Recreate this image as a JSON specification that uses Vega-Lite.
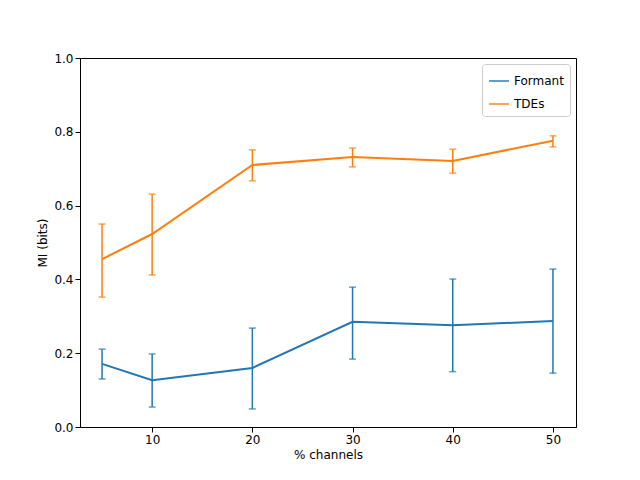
{
  "$schema": "https://vega.github.io/schema/vega-lite/v6.json",
  "width": 496,
  "height": 369,
  "autosize": {"type": "none"},
  "padding": {"left": 80, "top": 58, "right": 64, "bottom": 53},
  "data": {
    "values": [
      {"x": 5, "s": "Formant", "m": 0.171, "lo": 0.130, "hi": 0.211},
      {"x": 10, "s": "Formant", "m": 0.127, "lo": 0.054, "hi": 0.198},
      {"x": 20, "s": "Formant", "m": 0.160, "lo": 0.049, "hi": 0.268},
      {"x": 30, "s": "Formant", "m": 0.285, "lo": 0.184, "hi": 0.379},
      {"x": 40, "s": "Formant", "m": 0.276, "lo": 0.150, "hi": 0.401},
      {"x": 50, "s": "Formant", "m": 0.287, "lo": 0.146, "hi": 0.428},
      {"x": 5, "s": "TDEs", "m": 0.455, "lo": 0.352, "hi": 0.550},
      {"x": 10, "s": "TDEs", "m": 0.523, "lo": 0.412, "hi": 0.631},
      {"x": 20, "s": "TDEs", "m": 0.710, "lo": 0.667, "hi": 0.751},
      {"x": 30, "s": "TDEs", "m": 0.732, "lo": 0.705, "hi": 0.756},
      {"x": 40, "s": "TDEs", "m": 0.721, "lo": 0.688, "hi": 0.753},
      {"x": 50, "s": "TDEs", "m": 0.776, "lo": 0.759, "hi": 0.789}
    ]
  },
  "encoding": {
    "x": {"field": "x", "type": "quantitative", "title": "% channels",
      "scale": {"domain": [2.8, 52.3], "nice": false, "zero": false},
      "axis": {"values": [10, 20, 30, 40, 50], "grid": false}},
    "color": {"field": "s", "type": "nominal", "title": null,
      "scale": {"domain": ["Formant", "TDEs"], "range": ["#1f77b4", "#ff7f0e"]},
      "legend": {"orient": "top-right", "offset": 6, "symbolType": "stroke", "strokeColor": "#cccccc",
        "padding": 6, "cornerRadius": 3, "fillColor": "white", "labelFontSize": 12,
        "symbolSize": 400, "symbolStrokeWidth": 2, "rowPadding": 6}}
  },
  "layer": [
    {"mark": {"type": "rule", "strokeWidth": 1.5},
      "encoding": {"y": {"field": "lo", "type": "quantitative"}, "y2": {"field": "hi"}}},
    {"mark": {"type": "tick", "orient": "horizontal", "size": 7, "thickness": 1.5},
      "encoding": {"y": {"field": "lo", "type": "quantitative"}}},
    {"mark": {"type": "tick", "orient": "horizontal", "size": 7, "thickness": 1.5},
      "encoding": {"y": {"field": "hi", "type": "quantitative"}}},
    {"mark": {"type": "line", "strokeWidth": 2},
      "encoding": {"y": {"field": "m", "type": "quantitative", "title": "MI (bits)",
        "scale": {"domain": [0, 1], "nice": false},
        "axis": {"values": [0, 0.2, 0.4, 0.6, 0.8, 1.0], "format": ".1f", "grid": false}}}}
  ],
  "config": {
    "view": {"stroke": "black"},
    "axis": {"labelFontSize": 12, "titleFontSize": 12, "titleFontWeight": "normal", "labelColor": "black",
      "titleColor": "black", "domainColor": "black", "tickColor": "black", "labelFont": "DejaVu Sans", "titleFont": "DejaVu Sans"},
    "legend": {"labelFont": "DejaVu Sans"}
  }
}
